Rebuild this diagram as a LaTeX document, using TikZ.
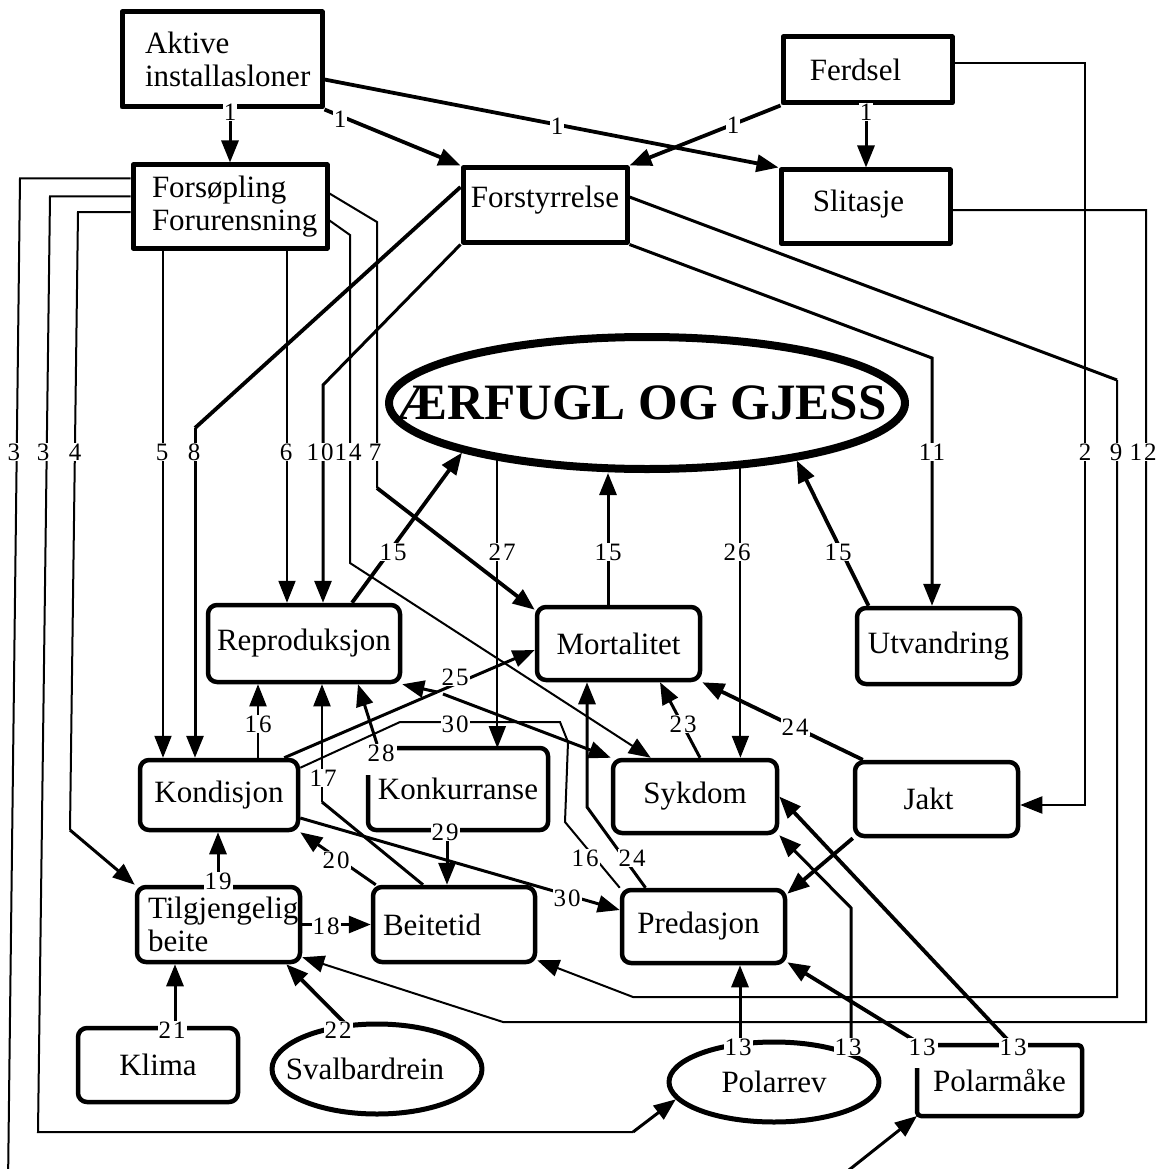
\documentclass[tikz,border=0pt]{standalone}
\usepackage{fontspec}
\setmainfont{Liberation Serif}
\newfontfamily\numfont[LetterSpace=8]{Liberation Serif}
\usetikzlibrary{arrows.meta,shapes.geometric,calc}
\pgfdeclarelayer{background}
\pgfsetlayers{background,main}
\hyphenpenalty=10000
\exhyphenpenalty=10000
\begin{document}
\begin{tikzpicture}[x=1pt,y=-1pt,
  boxfont/.style={font=\fontsize{31}{33}\selectfont},
  sqbox/.style={draw, rectangle, line width=5pt, inner sep=0pt, boxfont},
  rbox/.style={draw, rectangle, rounded corners=9pt, line width=4.5pt, inner sep=0pt, boxfont},
  oval/.style={draw, ellipse, line width=5pt, inner sep=0pt, boxfont},
  num/.style={fill=white, inner sep=1pt, font=\numfont\fontsize{25}{25}\selectfont},
  lnA/.style={line width=2pt},
  lnB/.style={line width=3pt},
  lnC/.style={line width=3.8pt},
  arw/.style={-{Triangle[length=22pt,width=17pt]}},
  line join=round]

\useasboundingbox (0,0) rectangle (1157,1169);
\clip (0,0) rectangle (1157,1169);

% ---------- boxes ----------
\node[sqbox, minimum width=200pt, minimum height=95pt, text width=154pt, align=left] (aktive) at (222,59.5) {Aktive\\installasloner};
\node[sqbox, minimum width=169pt, minimum height=66pt] (ferdsel) at (867.5,70) {\hspace*{-24pt}Ferdsel};
\node[sqbox, minimum width=194pt, minimum height=83pt, text width=156pt, align=left] (fors) at (230,206.5) {Forsøpling\\Forurensning};
\node[sqbox, minimum width=164pt, minimum height=74pt] (forst) at (545,205) {\raisebox{16pt}{Forstyrrelse}};
\node[sqbox, minimum width=169pt, minimum height=73pt] (slit) at (865.5,206.5) {\raisebox{12pt}{\hspace*{-14pt}Slitasje}};

\node[draw, ellipse, line width=8pt, inner sep=0pt, minimum width=516pt, minimum height=132pt,
      font=\bfseries\fontsize{51}{51}\selectfont] (aerfugl) at (647,403) {\makebox[0pt]{\hspace*{-11pt}ÆRFUGL OG GJESS}};

\node[rbox, minimum width=192pt, minimum height=77pt] (repro) at (304,643.5) {Reproduksjon};
\node[rbox, minimum width=163pt, minimum height=73pt] (mort) at (618.5,643.5) {Mortalitet};
\node[rbox, minimum width=163pt, minimum height=76pt] (utv) at (938.5,646) {Utvandring};
\node[rbox, minimum width=158pt, minimum height=70pt] (kond) at (219,795) {Kondisjon};
\node[boxfont, inner sep=0pt, outer sep=0pt, minimum width=180pt, minimum height=82pt] (konk) at (458,789) {Konkurranse};
\node[rbox, minimum width=164pt, minimum height=73pt] (syk) at (695,796.5) {Sykdom};
\node[rbox, minimum width=163pt, minimum height=74pt] (jakt) at (936.5,799) {\hspace*{-16pt}Jakt};
\node[rbox, minimum width=163pt, minimum height=75pt, text width=141pt, align=left] (tilg) at (218.5,924.5) {Tilgjengelig\\beite};
\node[rbox, minimum width=162pt, minimum height=75pt, text width=142pt, align=left] (beite) at (454,924.5) {Beitetid};
\node[rbox, minimum width=163pt, minimum height=73pt] (pred) at (703.5,926.5) {\hspace*{-10pt}Predasjon};
\node[rbox, minimum width=160pt, minimum height=74pt] (klima) at (158,1065) {Klima};
\node[oval, minimum width=210pt, minimum height=90pt] (svalb) at (377,1069) {\makebox[0pt]{\hspace*{-24pt}Svalbardrein}};
\node[oval, minimum width=210pt, minimum height=80pt] (polarrev) at (774,1082) {\makebox[0pt]{Polarrev}};
\node[boxfont, inner sep=0pt, outer sep=0pt, minimum width=165pt, minimum height=71pt] (polarm) at (999.5,1080.5) {Polarmåke};

% open outlines of Konkurranse and Polarmåke
\draw[line width=4.5pt, rounded corners=8pt] ([xshift=29pt]konk.north west) -- (konk.north east)
      -- (konk.south east) -- (konk.south west) -- ([yshift=-27pt]konk.north west);
\draw[line width=4.5pt, rounded corners=4pt] ([xshift=21pt]polarm.north west) -- (polarm.north east)
      -- (polarm.south east) -- (polarm.south west) -- ([yshift=-23pt]polarm.north west);

% ---------- connectors ----------
\begin{pgfonlayer}{background}
\fill[white] (0,0) rectangle (1157,1169);

% 1
\draw[lnB,arw] (aktive.south -| 230,0) -- (fors.north -| 230,0);
\draw[lnC,arw] (aktive.south east) -- (forst.north west);
\draw[lnC,arw] ([yshift=-20pt]aktive.east) -- (slit.north west);
\draw[lnC,arw] (ferdsel.south west) -- (forst.north east);
\draw[lnB,arw] (ferdsel.south -| 866,0) -- (slit.north -| 866,0);
% 2
\draw[lnA,arw] ([yshift=7pt]ferdsel.east) -| (1085,805) -- (jakt.east |- 0,805);
% 12
\draw[lnA,arw] ([yshift=-3.5pt]slit.east) -| (1146,1022) -- (503,1022) -- ([yshift=7pt]tilg.south east);
% 9
\draw[lnB] ([yshift=8pt]forst.east) -- (1117,380);
\draw[lnA,arw] (1117,380) -- (1117,997) -- (633,997) -- ([yshift=4pt]beite.south east);
% 11
\draw[lnB,arw] (forst.south east) -- (932,358) -- (utv.north -| 932,0);
% 8
\draw[lnC] ([yshift=18pt]forst.west) -- (195,428);
\draw[lnB,arw] (195,428) -- (kond.north -| 195,0);
% 10
\draw[lnB,arw] (forst.south west) -- (323,385) -- (repro.north -| 323,0);
% 6 and 5
\draw[lnA,arw] (fors.south -| 287,0) -- (repro.north -| 287,0);
\draw[lnA,arw] (fors.south -| 163,0) -- (kond.north -| 163,0);
% 7
\draw[lnA] ([yshift=13pt]fors.east) -- (377,222) -- (377,488);
\draw[lnC,arw] (377,488) -- ([yshift=-5pt]mort.north west);
% 14
\draw[lnA,arw] ([yshift=-14pt]fors.east) -- (350,235) -- (350,563) -- ([xshift=40pt]syk.north west);
% 3 (outer) to Polarmåke
\draw[lnA] ([yshift=28pt]fors.west) -- (20,178.5) -- (8,1185) -- (830,1185);
\draw[lnB,arw] (830,1185) -- (polarm.south west);
% 3 (inner) to Polarrev
\draw[lnA] ([yshift=10pt]fors.west) -- (50,196.5) -- (38,1132) -- (633,1132);
\draw[lnB,arw] (633,1132) -- (polarrev.190);
% 4
\draw[lnA] ([yshift=-5.5pt]fors.west) -- (78,212) -- (70,830);
\draw[lnB,arw] (70,830) -- (tilg.north west);

% 15
\draw[lnC,arw] ([xshift=48pt]repro.north) -- (aerfugl.195);
\draw[lnB,arw] (mort.north -| 608,0) -- (aerfugl.south -| 608,0);
\draw[lnC,arw] ([xshift=-70pt]utv.north) -- (aerfugl.339);
% 27, 26
\draw[lnA,arw] (aerfugl.201) -- (aerfugl.201 |- konk.north);
\draw[lnA,arw] (aerfugl.325) -- (aerfugl.325 |- syk.north);

% 16, 17, 28
\draw[lnA,arw] (kond.north -| 258,0) -- (repro.south -| 258,0);
\draw[lnB] ([xshift=-31pt]beite.north) -- (322,802);
\draw[lnA,arw] (322,802) -- (repro.south -| 322,0);
\draw[lnB,arw] ([xshift=9pt,yshift=4pt]konk.north west) -- ([xshift=54pt]repro.south);
% 25
\coordinate (j25) at (437,692);
\draw[lnB] ([xshift=-16pt]kond.north east) -- (j25);
\draw[lnB,arw] (j25) -- (repro.south east);
\draw[lnB,arw] (j25) -- ([yshift=-6.5pt]mort.west);
\draw[lnB,arw] ([xshift=6pt,yshift=-2pt]j25) -- (syk.north west);
% 30 / 16
\draw[lnA] ([yshift=-10pt]kond.north east) -- (400,722) -- (560,722) -- (568,742) -- (565,822) -- (pred.north west);
\draw[lnB,arw] ([yshift=-23pt]kond.east) -- ([yshift=16.5pt]pred.west);
% 20, 19, 18, 21, 22, 29
\draw[lnB,arw] ([xshift=5pt]beite.north west) -- (kond.south east);
\draw[lnB,arw] (tilg.north -| 218,0) -- (kond.south -| 218,0);
\draw[lnB,arw] (tilg.east) -- (beite.west);
\draw[lnB,arw] (klima.north -| 175,0) -- (tilg.south -| 175,0);
\draw[lnC,arw] (svalb.125) -- ([xshift=-16pt]tilg.south east);
\draw[lnB,arw] (konk.south -| 447,0) -- (beite.north -| 447,0);
% 23, 24
\draw[lnB,arw] ([xshift=5pt]syk.north) -- (mort.south -| 660,0);
\draw[lnC,arw] ([xshift=10pt]jakt.north west) -- (mort.south east);
\draw[lnB,arw] ([xshift=-58pt]pred.north) -- (587,807) -- (mort.south -| 587,0);
\draw[lnC,arw] (jakt.south west) -- ([yshift=-6pt]pred.north east);
% 13
\draw[lnB,arw] (polarrev.north -| 740,0) -- (pred.south -| 740,0);
\draw[lnB,arw] (polarrev.21) -- (polarrev.21 |- 0,908) -- (syk.south east);
\draw[lnC,arw] ([xshift=5pt]polarm.north west) -- ([yshift=3pt]pred.south east);
\draw[lnC,arw] ([xshift=13pt]polarm.north) -- (syk.east);
\end{pgfonlayer}

% ---------- connector numbers ----------
\node[num] (a1) at (230,112) {1};
\node[num] (a2) at (340,119) {1};
\node[num] (a3) at (557,126) {1};
\node[num] (a4) at (733,125) {1};
\node[num] (a5) at (866,112) {1};

\node[num] (b3a) at (14,452) {3};
\node[num] (b3b) at (43,452) {3};
\node[num] (b4) at (75,452) {4};
\node[num] (b5) at (162,452) {5};
\node[num] (b8) at (194,452) {8};
\node[num] (b6) at (286,452) {6};
\node[num] (b10) at (320,452) {10};
\node[num] (b14) at (348,452) {14};
\node[num] (b7) at (375,452) {7};
\node[num] (b11) at (932,452) {11};
\node[num] (b2) at (1085,452) {2};
\node[num] (b9) at (1116,452) {9};
\node[num] (b12) at (1143,452) {12};

\node[num] (c15a) at (393,552) {15};
\node[num] (c27) at (502,552) {27};
\node[num] (c15b) at (608,552) {15};
\node[num] (c26) at (737,552) {26};
\node[num] (c15c) at (838,552) {15};

\node[num] (d16) at (258,724) {16};
\node[num] (d17) at (323,778) {17};
\node[num] (d28) at (381,753) {28};
\node[num] (d25) at (455,677) {25};
\node[num] (d30) at (455,724) {30};
\node[num] (d23) at (683,724) {23};
\node[num] (d24) at (795,727) {24};
\node[num] (e16) at (585,858) {16};
\node[num] (e24) at (632,858) {24};
\node[num] (e19) at (218,881) {19};
\node[num] (e20) at (336,860) {20};
\node[num] (e29) at (445,832) {29};
\node[num] (e18) at (326,926) {18};
\node[num] (e30) at (567,898) {30};
\node[num] (f21) at (172,1030) {21};
\node[num] (f22) at (338,1030) {22};
\node[num] (f13a) at (738,1047) {13};
\node[num] (f13b) at (848,1047) {13};
\node[num] (f13c) at (922,1047) {13};
\node[num] (f13d) at (1013,1047) {13};
\end{tikzpicture}
\end{document}
